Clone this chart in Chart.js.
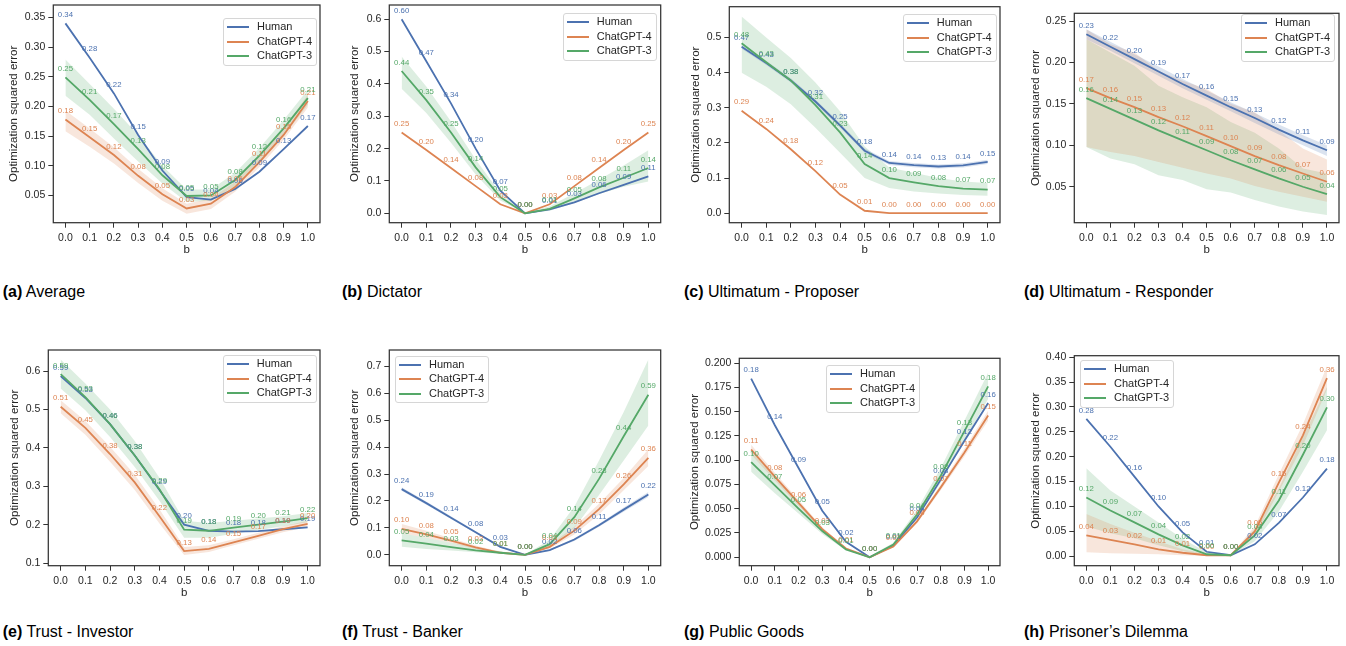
<!DOCTYPE html>
<html lang="en">
<head>
<meta charset="UTF-8">
<title>Optimization squared error by b</title>
<script src="https://cdn.jsdelivr.net/npm/chart.js"></script>
<style>
  body { margin: 0; width: 1346px; height: 646px; position: relative; background: #fff; overflow: hidden;
         font-family: 'Liberation Sans', Arial, sans-serif; }
  .panel { position: absolute; }
  .caption { position: absolute; font-size: 16px; line-height: 16px; color: #000; white-space: nowrap; }
  .legend { position: absolute; border: 1px solid #d6d6d6; border-radius: 3px; background: rgba(255,255,255,0.85);
            padding: 0 4px 2px 3px; font-size: 11px; color: #262626; }
  .legend div { height: 14.5px; line-height: 14.5px; white-space: nowrap; }
  .legend span { display: inline-block; width: 22px; height: 2px; vertical-align: middle; margin-right: 8px; }
</style>
</head>
<body>
<script>
    const xValues = [0.0, 0.1, 0.2, 0.3, 0.4, 0.5, 0.6, 0.7, 0.8, 0.9, 1.0];
    const seriesNames = ['Human', 'ChatGPT-4', 'ChatGPT-3'];

    // (a) Average
    const avgHuman = [0.340, 0.282, 0.222, 0.152, 0.092, 0.047, 0.043, 0.061, 0.090, 0.128, 0.167];
    const avgGpt4 = [0.178, 0.148, 0.118, 0.083, 0.052, 0.028, 0.036, 0.064, 0.106, 0.152, 0.209];
    const avgGpt4Lo = [0.158, 0.132, 0.104, 0.071, 0.041, 0.019, 0.027, 0.056, 0.098, 0.144, 0.198];
    const avgGpt4Hi = [0.193, 0.163, 0.131, 0.095, 0.062, 0.036, 0.045, 0.073, 0.115, 0.163, 0.220];
    const avgGpt3 = [0.249, 0.211, 0.170, 0.128, 0.084, 0.049, 0.050, 0.076, 0.117, 0.163, 0.214];
    const avgGpt3Lo = [0.218, 0.186, 0.146, 0.107, 0.070, 0.039, 0.041, 0.066, 0.105, 0.150, 0.203];
    const avgGpt3Hi = [0.279, 0.238, 0.196, 0.152, 0.100, 0.060, 0.060, 0.088, 0.130, 0.177, 0.228];
    const avgTicks = [0.05, 0.10, 0.15, 0.20, 0.25, 0.30, 0.35];

    // (b) Dictator
    const dicHuman = [0.600, 0.470, 0.340, 0.200, 0.070, 0.000, 0.012, 0.034, 0.062, 0.088, 0.114];
    const dicGpt4 = [0.250, 0.196, 0.140, 0.084, 0.028, 0.000, 0.028, 0.084, 0.140, 0.196, 0.250];
    const dicGpt3 = [0.440, 0.350, 0.250, 0.142, 0.050, 0.000, 0.014, 0.046, 0.080, 0.110, 0.140];
    const dicGpt3Lo = [0.385, 0.310, 0.218, 0.120, 0.040, 0.000, 0.008, 0.032, 0.060, 0.082, 0.098];
    const dicGpt3Hi = [0.485, 0.392, 0.284, 0.166, 0.062, 0.002, 0.022, 0.062, 0.104, 0.148, 0.195];
    const dicTicks = [0.0, 0.1, 0.2, 0.3, 0.4, 0.5, 0.6];

    // (c) Ultimatum - Proposer
    const ulpHuman = [0.474, 0.428, 0.378, 0.318, 0.250, 0.178, 0.143, 0.137, 0.133, 0.136, 0.146];
    const ulpHumanLo = [0.468, 0.422, 0.372, 0.312, 0.244, 0.172, 0.137, 0.131, 0.127, 0.130, 0.140];
    const ulpHumanHi = [0.480, 0.434, 0.384, 0.324, 0.256, 0.184, 0.149, 0.143, 0.139, 0.142, 0.152];
    const ulpGpt4 = [0.292, 0.240, 0.182, 0.120, 0.053, 0.007, 0.000, 0.000, 0.000, 0.000, 0.000];
    const ulpGpt3 = [0.484, 0.430, 0.378, 0.308, 0.230, 0.140, 0.100, 0.088, 0.077, 0.070, 0.067];
    const ulpGpt3Lo = [0.400, 0.360, 0.310, 0.243, 0.172, 0.100, 0.072, 0.062, 0.056, 0.052, 0.050];
    const ulpGpt3Hi = [0.560, 0.500, 0.442, 0.372, 0.290, 0.190, 0.130, 0.115, 0.100, 0.090, 0.086];
    const ulpTicks = [0.0, 0.1, 0.2, 0.3, 0.4, 0.5];

    // (d) Ultimatum - Responder
    const ulrHuman = [0.234, 0.219, 0.204, 0.189, 0.174, 0.160, 0.146, 0.133, 0.119, 0.106, 0.094];
    const ulrHumanLo = [0.228, 0.214, 0.199, 0.184, 0.169, 0.155, 0.141, 0.127, 0.113, 0.100, 0.087];
    const ulrHumanHi = [0.240, 0.225, 0.210, 0.195, 0.180, 0.166, 0.152, 0.139, 0.125, 0.112, 0.100];
    const ulrGpt4 = [0.169, 0.157, 0.146, 0.134, 0.123, 0.111, 0.099, 0.087, 0.076, 0.066, 0.056];
    const ulrGpt4Lo = [0.098, 0.092, 0.087, 0.080, 0.073, 0.066, 0.060, 0.051, 0.044, 0.038, 0.032];
    const ulrGpt4Hi = [0.240, 0.222, 0.212, 0.190, 0.178, 0.168, 0.150, 0.140, 0.118, 0.096, 0.083];
    const ulrGpt3 = [0.157, 0.144, 0.131, 0.118, 0.106, 0.094, 0.082, 0.071, 0.060, 0.050, 0.041];
    const ulrGpt3Lo = [0.098, 0.084, 0.077, 0.064, 0.058, 0.047, 0.043, 0.034, 0.026, 0.020, 0.016];
    const ulrGpt3Hi = [0.228, 0.212, 0.196, 0.172, 0.158, 0.146, 0.128, 0.115, 0.096, 0.072, 0.066];
    const ulrTicks = [0.05, 0.10, 0.15, 0.20, 0.25];

    // (e) Trust - Investor
    const invHuman = [0.587, 0.530, 0.462, 0.380, 0.290, 0.200, 0.184, 0.182, 0.183, 0.188, 0.193];
    const invGpt4 = [0.507, 0.452, 0.384, 0.310, 0.222, 0.131, 0.137, 0.154, 0.171, 0.188, 0.202];
    const invGpt4Lo = [0.490, 0.434, 0.364, 0.290, 0.203, 0.121, 0.129, 0.146, 0.163, 0.180, 0.194];
    const invGpt4Hi = [0.524, 0.470, 0.403, 0.330, 0.240, 0.142, 0.146, 0.162, 0.179, 0.196, 0.210];
    const invGpt3 = [0.592, 0.532, 0.462, 0.380, 0.292, 0.187, 0.184, 0.192, 0.200, 0.208, 0.217];
    const invGpt3Lo = [0.555, 0.498, 0.428, 0.350, 0.262, 0.166, 0.166, 0.176, 0.186, 0.196, 0.206];
    const invGpt3Hi = [0.630, 0.568, 0.500, 0.418, 0.322, 0.210, 0.204, 0.210, 0.216, 0.222, 0.230];
    const invTicks = [0.1, 0.2, 0.3, 0.4, 0.5, 0.6];

    // (f) Trust - Banker
    const bnkHuman = [0.244, 0.192, 0.138, 0.084, 0.030, 0.000, 0.018, 0.057, 0.110, 0.168, 0.224];
    const bnkHumanLo = [0.238, 0.186, 0.133, 0.080, 0.027, 0.000, 0.015, 0.052, 0.104, 0.160, 0.215];
    const bnkHumanHi = [0.251, 0.198, 0.143, 0.088, 0.033, 0.001, 0.021, 0.062, 0.116, 0.176, 0.233];
    const bnkGpt4 = [0.097, 0.076, 0.053, 0.028, 0.008, 0.000, 0.030, 0.090, 0.170, 0.262, 0.360];
    const bnkGpt4Lo = [0.080, 0.064, 0.045, 0.022, 0.005, 0.000, 0.024, 0.076, 0.150, 0.240, 0.330];
    const bnkGpt4Hi = [0.115, 0.090, 0.062, 0.035, 0.012, 0.001, 0.037, 0.104, 0.190, 0.285, 0.392];
    const bnkGpt3 = [0.054, 0.042, 0.029, 0.017, 0.008, 0.000, 0.040, 0.140, 0.282, 0.440, 0.594];
    const bnkGpt3Lo = [0.030, 0.022, 0.016, 0.010, 0.004, 0.000, 0.026, 0.100, 0.222, 0.350, 0.480];
    const bnkGpt3Hi = [0.080, 0.064, 0.045, 0.028, 0.014, 0.001, 0.056, 0.180, 0.350, 0.530, 0.725];
    const bnkTicks = [0.0, 0.1, 0.2, 0.3, 0.4, 0.5, 0.6, 0.7];

    // (g) Public Goods
    const pgHuman = [0.184, 0.136, 0.092, 0.048, 0.016, 0.000, 0.012, 0.041, 0.080, 0.120, 0.159];
    const pgGpt4 = [0.111, 0.083, 0.056, 0.029, 0.009, 0.000, 0.011, 0.037, 0.072, 0.108, 0.146];
    const pgGpt4Lo = [0.106, 0.079, 0.053, 0.027, 0.008, 0.000, 0.010, 0.035, 0.069, 0.104, 0.141];
    const pgGpt4Hi = [0.116, 0.087, 0.059, 0.031, 0.010, 0.001, 0.012, 0.039, 0.075, 0.112, 0.151];
    const pgGpt3 = [0.098, 0.074, 0.050, 0.027, 0.008, 0.000, 0.013, 0.044, 0.084, 0.130, 0.176];
    const pgGpt3Lo = [0.088, 0.066, 0.045, 0.024, 0.007, 0.000, 0.012, 0.040, 0.077, 0.120, 0.163];
    const pgGpt3Hi = [0.110, 0.083, 0.056, 0.030, 0.009, 0.001, 0.015, 0.049, 0.092, 0.141, 0.190];
    const pgTicks = [0.000, 0.025, 0.050, 0.075, 0.100, 0.125, 0.150, 0.175, 0.200];

    // (h) Prisoner's Dilemma
    const pdHuman = [0.276, 0.220, 0.160, 0.100, 0.048, 0.009, 0.002, 0.024, 0.067, 0.118, 0.176];
    const pdGpt4 = [0.042, 0.033, 0.024, 0.014, 0.007, 0.002, 0.002, 0.050, 0.148, 0.243, 0.358];
    const pdGpt4Lo = [0.008, 0.006, 0.005, 0.004, 0.002, 0.001, 0.001, 0.040, 0.130, 0.222, 0.335];
    const pdGpt4Hi = [0.085, 0.065, 0.047, 0.030, 0.014, 0.004, 0.003, 0.060, 0.165, 0.265, 0.382];
    const pdGpt3 = [0.118, 0.092, 0.068, 0.044, 0.022, 0.004, 0.002, 0.042, 0.112, 0.204, 0.299];
    const pdGpt3Lo = [0.060, 0.046, 0.036, 0.022, 0.010, 0.002, 0.001, 0.030, 0.090, 0.170, 0.253];
    const pdGpt3Hi = [0.177, 0.132, 0.100, 0.068, 0.035, 0.008, 0.003, 0.055, 0.136, 0.240, 0.340];
    const pdTicks = [0.00, 0.05, 0.10, 0.15, 0.20, 0.25, 0.30, 0.35, 0.40];

    const lineColors = ['#4C72B0', '#DD8452', '#55A868'];
    const bandColors = ['rgba(76,114,176,0.2)', 'rgba(221,132,82,0.2)', 'rgba(85,168,104,0.2)'];
    const FONT = "'Liberation Sans', Arial, sans-serif";
    const TEXT = '#262626';

    // box = plot frame [left, top, right, bottom] in page pixels
    const panels = [
        { tag: '(a)', name: 'Average', yMin: 0.004, yMax: 0.371, yTicks: avgTicks, dec: 2,
          series: [[avgHuman], [avgGpt4, avgGpt4Lo, avgGpt4Hi], [avgGpt3, avgGpt3Lo, avgGpt3Hi]],
          box: [53.3, 5, 320, 222.7], titleX: 14, legend: [223, 18], cap: [2.7, 283.5] },
        { tag: '(b)', name: 'Dictator', yMin: -0.029, yMax: 0.644, yTicks: dicTicks, dec: 1,
          series: [[dicHuman], [dicGpt4], [dicGpt3, dicGpt3Lo, dicGpt3Hi]],
          box: [389.3, 5, 660.7, 222.7], titleX: 355, legend: [562.7, 13], cap: [342, 283.5] },
        { tag: '(c)', name: 'Ultimatum - Proposer', yMin: -0.027, yMax: 0.588, yTicks: ulpTicks, dec: 1,
          series: [[ulpHuman, ulpHumanLo, ulpHumanHi], [ulpGpt4], [ulpGpt3, ulpGpt3Lo, ulpGpt3Hi]],
          box: [729.3, 6.7, 1000, 222.7], titleX: 696, legend: [902.7, 14], cap: [684, 283.5] },
        { tag: '(d)', name: 'Ultimatum - Responder', yMin: 0.0066, yMax: 0.2593, yTicks: ulrTicks, dec: 2,
          series: [[ulrHuman, ulrHumanLo, ulrHumanHi], [ulrGpt4, ulrGpt4Lo, ulrGpt4Hi], [ulrGpt3, ulrGpt3Lo, ulrGpt3Hi]],
          box: [1074.3, 13.3, 1339, 222.7], titleX: 1035.7, legend: [1241, 14], cap: [1024, 283.5] },
        { tag: '(e)', name: 'Trust - Investor', yMin: 0.093, yMax: 0.655, yTicks: invTicks, dec: 1,
          series: [[invHuman], [invGpt4, invGpt4Lo, invGpt4Hi], [invGpt3, invGpt3Lo, invGpt3Hi]],
          box: [48.3, 350, 320, 565.7], titleX: 15, legend: [222.7, 355], cap: [2.7, 623.5] },
        { tag: '(f)', name: 'Trust - Banker', yMin: -0.040, yMax: 0.760, yTicks: bnkTicks, dec: 1,
          series: [[bnkHuman, bnkHumanLo, bnkHumanHi], [bnkGpt4, bnkGpt4Lo, bnkGpt4Hi], [bnkGpt3, bnkGpt3Lo, bnkGpt3Hi]],
          box: [389.3, 350, 660.7, 565.7], titleX: 355, legend: [395, 355.7], cap: [342, 623.5] },
        { tag: '(g)', name: 'Public Goods', yMin: -0.0087, yMax: 0.205, yTicks: pgTicks, dec: 3,
          series: [[pgHuman], [pgGpt4, pgGpt4Lo, pgGpt4Hi], [pgGpt3, pgGpt3Lo, pgGpt3Hi]],
          box: [739.3, 358.3, 1000, 565.7], titleX: 695, legend: [826, 365], cap: [684, 623.5] },
        { tag: '(h)', name: 'Prisoner\u2019s Dilemma', yMin: -0.019, yMax: 0.403, yTicks: pdTicks, dec: 2,
          series: [[pdHuman], [pdGpt4, pdGpt4Lo, pdGpt4Hi], [pdGpt3, pdGpt3Lo, pdGpt3Hi]],
          box: [1074.3, 355.7, 1339, 565.7], titleX: 1035.7, legend: [1080, 360], cap: [1024, 623.5] }
    ];

    const toPoints = arr => arr.map((v, i) => ({ x: xValues[i], y: v }));

    // value labels above each point of the main lines
    const valueLabels = {
        id: 'valueLabels',
        afterDatasetsDraw(chart) {
            const ctx = chart.ctx;
            ctx.save();
            ctx.font = '7.8px ' + FONT;
            ctx.textAlign = 'center';
            ctx.textBaseline = 'middle';
            chart.data.datasets.forEach((ds, i) => {
                if (!ds.isMain) return;
                ctx.fillStyle = ds.borderColor;
                chart.getDatasetMeta(i).data.forEach((pt, j) => {
                    ctx.fillText(ds.data[j].y.toFixed(2), pt.x, pt.y - 8.5);
                });
            });
            ctx.restore();
        }
    };

    // full box around the plot area
    const frame = {
        id: 'frame',
        afterDraw(chart) {
            const a = chart.chartArea;
            const ctx = chart.ctx;
            ctx.save();
            ctx.strokeStyle = '#333';
            ctx.lineWidth = 1.25;
            ctx.strokeRect(a.left, a.top, a.right - a.left, a.bottom - a.top);
            ctx.restore();
        }
    };

    panels.forEach(p => {
        const [bl, bt, br, bb] = p.box;
        const cl = Math.round(p.titleX - 6.9);
        const ct = Math.round(bt - 12);
        const w = Math.round(br + 6 - cl);
        const h = Math.round(bb + 34 - ct);
        const yAxisW = bl - cl;
        const padTop = bt - ct;
        const padRight = cl + w - br;
        const xAxisH = ct + h - bb;

        const div = document.createElement('div');
        div.className = 'panel';
        div.style.left = cl + 'px';
        div.style.top = ct + 'px';
        const canvas = document.createElement('canvas');
        canvas.width = w;
        canvas.height = h;
        div.appendChild(canvas);
        document.body.appendChild(div);

        const datasets = [];
        p.series.forEach((s, i) => {
            const [vals, lo, hi] = s;
            if (lo) {
                datasets.push({ data: toPoints(lo), borderWidth: 0, pointRadius: 0, fill: false, order: 10 });
                datasets.push({ data: toPoints(hi), borderWidth: 0, pointRadius: 0, fill: '-1',
                                backgroundColor: bandColors[i], order: 10 });
            }
            datasets.push({ label: seriesNames[i], data: toPoints(vals), borderColor: lineColors[i],
                            borderWidth: 1.8, pointRadius: 0, fill: false, order: 3 - i, isMain: true });
        });

        const tickFont = { family: FONT, size: 10.5 };
        const titleFont = { family: FONT, size: 11.5 };
        const grid = { drawOnChartArea: false, drawTicks: true, tickLength: 5, color: '#333', lineWidth: 1 };

        new Chart(canvas, {
            type: 'line',
            data: { datasets },
            plugins: [valueLabels, frame],
            options: {
                responsive: false,
                animation: false,
                layout: { padding: { left: 0, top: padTop, right: padRight, bottom: 0 } },
                plugins: { legend: { display: false }, tooltip: { enabled: false } },
                elements: { line: { tension: 0 } },
                scales: {
                    x: {
                        type: 'linear', min: -0.05, max: 1.05,
                        afterBuildTicks: a => { a.ticks = xValues.map(v => ({ value: v })); },
                        afterFit: a => { a.height = xAxisH; },
                        ticks: { callback: v => v.toFixed(1), font: tickFont, color: TEXT, padding: 4,
                                 maxRotation: 0, autoSkip: false },
                        grid: grid,
                        border: { display: false },
                        title: { display: true, text: 'b', font: titleFont, color: TEXT, padding: 0 }
                    },
                    y: {
                        type: 'linear', min: p.yMin, max: p.yMax,
                        afterBuildTicks: a => { a.ticks = p.yTicks.map(v => ({ value: v })); },
                        afterFit: a => { a.width = yAxisW; },
                        ticks: { callback: v => v.toFixed(p.dec), font: tickFont, color: TEXT, padding: 3,
                                 autoSkip: false },
                        grid: grid,
                        border: { display: false },
                        title: { display: true, text: 'Optimization squared error', font: titleFont,
                                 color: TEXT, padding: 0 }
                    }
                }
            }
        });

        const leg = document.createElement('div');
        leg.className = 'legend';
        leg.style.left = p.legend[0] + 'px';
        leg.style.top = p.legend[1] + 'px';
        seriesNames.forEach((n, i) => {
            const row = document.createElement('div');
            const sw = document.createElement('span');
            sw.style.background = lineColors[i];
            row.appendChild(sw);
            row.appendChild(document.createTextNode(n));
            leg.appendChild(row);
        });
        document.body.appendChild(leg);

        const cap = document.createElement('div');
        cap.className = 'caption';
        cap.style.left = p.cap[0] + 'px';
        cap.style.top = p.cap[1] + 'px';
        const b = document.createElement('b');
        b.textContent = p.tag;
        cap.appendChild(b);
        cap.appendChild(document.createTextNode(' ' + p.name));
        document.body.appendChild(cap);
    });
</script>
</body>
</html>
